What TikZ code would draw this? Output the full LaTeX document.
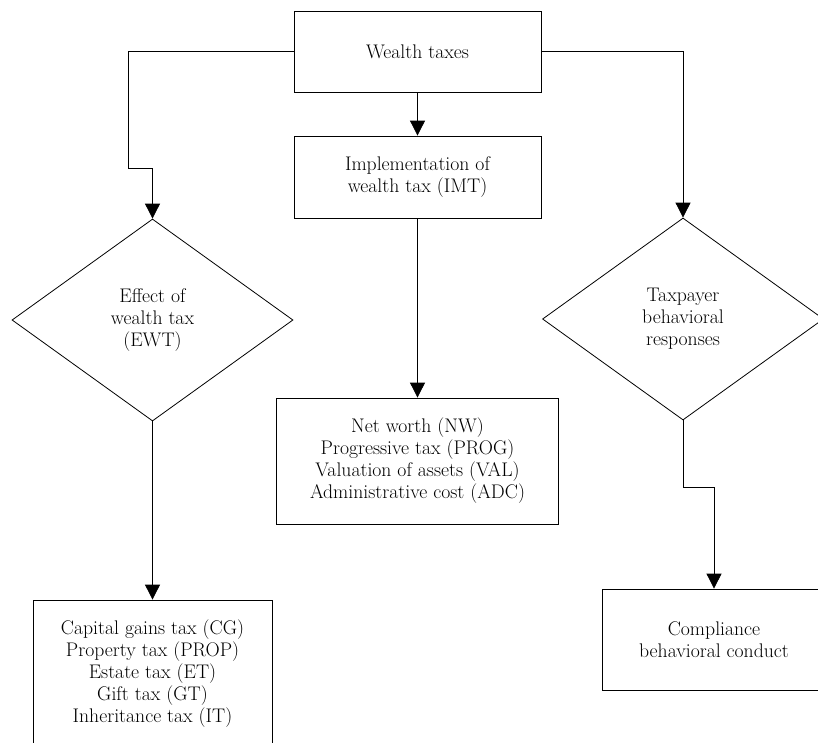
\documentclass[tikz,border=0pt]{standalone}
\usepackage{fontspec}
\usepackage{tikz}
\usetikzlibrary{shapes.geometric}
\usetikzlibrary{arrows.meta}

\begin{document}
\begin{tikzpicture}[x=1pt, y=-1pt,
    box/.style={draw, line width=0.8pt, rectangle, align=center, inner sep=0pt,
      font=\fontsize{19.7}{22}\selectfont},
    decision/.style={draw, line width=0.8pt, diamond, align=center, inner sep=0pt,
      minimum width=281pt, minimum height=202pt, font=\fontsize{19.7}{22}\selectfont},
    link/.style={line width=0.8pt, -{Triangle[width=15pt, length=15pt]}}]
  \useasboundingbox (0, 0) rectangle (818, 742);
  \node[box, minimum width=247pt, minimum height=81pt] (wealth) at (417.5, 51.5) {Wealth taxes};
  \node[box, minimum width=247pt, minimum height=82pt] (imt) at (417.5, 177) {Implementation of\\wealth tax (IMT)};
  \node[decision] (ewt) at (152.5, 320) {Effect of\\wealth tax\\(EWT)};
  \node[decision] (tbr) at (683, 319) {Taxpayer\\behavioral\\responses};
  \node[box, minimum width=282pt, minimum height=126pt] (nw) at (417.5, 461)
    {Net worth (NW)\\Progressive tax (PROG)\\Valuation of assets (VAL)\\Administrative cost (ADC)};
  \node[box, minimum width=239pt, minimum height=148pt] (cg) at (152.5, 674)
    {Capital gains tax (CG)\\Property tax (PROP)\\Estate tax (ET)\\Gift tax (GT)\\Inheritance tax (IT)};
  \node[box, minimum width=224pt, minimum height=101pt] (comp) at (714, 639.5)
    {Compliance\\behavioral conduct};
  \draw[link] (wealth.west) -| (128, 168) -| (ewt.north);
  \draw[link] (wealth.east) -| (tbr.north);
  \draw[link] (wealth.south) -- (imt.north);
  \draw[link] (imt.south) -- (nw.north);
  \draw[link] (ewt.south) -- (cg.north);
  \draw[link] (tbr.south) -- ++(0, 67) -| (comp.north);
\end{tikzpicture}
\end{document}
